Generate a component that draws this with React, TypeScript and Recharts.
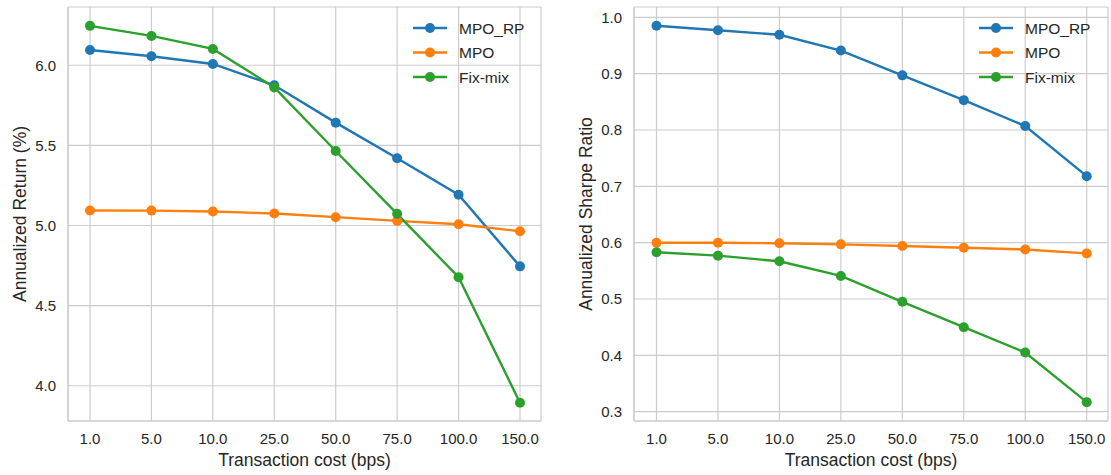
import React from "react";
import {
  LineChart,
  Line,
  XAxis,
  YAxis,
  CartesianGrid,
  Legend,
  Label,
} from "recharts";

const costs = ["1.0", "5.0", "10.0", "25.0", "50.0", "75.0", "100.0", "150.0"];

const returnMpoRp = [6.095, 6.056, 6.008, 5.875, 5.642, 5.42, 5.192, 4.745];
const returnMpo = [5.094, 5.093, 5.087, 5.075, 5.052, 5.029, 5.008, 4.964];
const returnFixMix = [6.246, 6.183, 6.102, 5.862, 5.465, 5.073, 4.677, 3.894];

const sharpeMpoRp = [0.985, 0.977, 0.969, 0.941, 0.897, 0.853, 0.807, 0.718];
const sharpeMpo = [0.6, 0.6, 0.599, 0.597, 0.594, 0.591, 0.588, 0.581];
const sharpeFixMix = [0.583, 0.577, 0.567, 0.541, 0.495, 0.45, 0.405, 0.317];

const returnTicks = [4.0, 4.5, 5.0, 5.5, 6.0];
const sharpeTicks = [0.3, 0.4, 0.5, 0.6, 0.7, 0.8, 0.9, 1.0];

const seriesNames = ["MPO_RP", "MPO", "Fix-mix"];
const seriesKeys = ["mpoRp", "mpo", "fixMix"];
const seriesColors = ["#1f77b4", "#ff7f0e", "#2ca02c"];

const returnData = costs.map((c, i) => ({
  cost: c,
  mpoRp: returnMpoRp[i],
  mpo: returnMpo[i],
  fixMix: returnFixMix[i],
}));

const sharpeData = costs.map((c, i) => ({
  cost: c,
  mpoRp: sharpeMpoRp[i],
  mpo: sharpeMpo[i],
  fixMix: sharpeFixMix[i],
}));

const TEXT = "#262626";
const GRID = "#cccccc";
const FONT = "'Liberation Sans', Arial, sans-serif";

const renderLegend = () => (
  <svg width={140} height={80} style={{ overflow: "visible" }}>
    {seriesNames.map((name, i) => {
      const cy = 12 + i * 24.5;
      return (
        <g key={name}>
          <line x1={0} x2={34} y1={cy} y2={cy} stroke={seriesColors[i]} strokeWidth={2.4} />
          <circle cx={17} cy={cy} r={5} fill={seriesColors[i]} />
          <text
            x={46}
            y={cy}
            dominantBaseline="central"
            fontSize={15.5}
            fill={TEXT}
            fontFamily={FONT}
          >
            {name}
          </text>
        </g>
      );
    })}
  </svg>
);

type PanelProps = {
  data: any[];
  domain: [number, number];
  ticks: number[];
  yLabel: string;
  width: number;
  yAxisWidth: number;
  marginRight: number;
  padLeft: number;
  padRight: number;
  yLabelX: number;
  legendLeft: number;
};

const Panel = (p: PanelProps) => (
  <LineChart
    width={p.width}
    height={475}
    data={p.data}
    margin={{ top: 7, right: p.marginRight, bottom: 0, left: 0 }}
  >
    <CartesianGrid stroke={GRID} strokeWidth={1.2} />
    <XAxis
      dataKey="cost"
      type="category"
      height={54}
      padding={{ left: p.padLeft, right: p.padRight }}
      tickSize={0}
      tickMargin={12}
      tick={{ fill: TEXT, fontSize: 15 }}
      axisLine={{ stroke: GRID, strokeWidth: 1.2 }}
      tickLine={false}
      interval={0}
    >
      <Label
        content={(props: any) => {
          const vb = props.viewBox || {};
          return (
            <text
              x={vb.x + vb.width / 2}
              y={vb.y + 39}
              textAnchor="middle"
              dominantBaseline="central"
              fontSize={17.5}
              fill={TEXT}
              fontFamily={FONT}
            >
              Transaction cost (bps)
            </text>
          );
        }}
      />
    </XAxis>
    <XAxis
      xAxisId="top"
      dataKey="cost"
      type="category"
      orientation="top"
      height={0}
      tick={false}
      tickLine={false}
      padding={{ left: p.padLeft, right: p.padRight }}
      axisLine={{ stroke: GRID, strokeWidth: 1.2 }}
    />
    <YAxis
      type="number"
      domain={p.domain}
      ticks={p.ticks}
      allowDataOverflow
      width={p.yAxisWidth}
      tickSize={0}
      tickMargin={12}
      tickLine={false}
      tick={{ fill: TEXT, fontSize: 15 }}
      tickFormatter={(v: number) => v.toFixed(1)}
      axisLine={{ stroke: GRID, strokeWidth: 1.2 }}
    >
      <Label
        content={(props: any) => {
          const vb = props.viewBox || {};
          const cx = vb.x + p.yLabelX;
          const cy = vb.y + vb.height / 2;
          return (
            <text
              x={cx}
              y={cy}
              textAnchor="middle"
              dominantBaseline="central"
              fontSize={17.5}
              fill={TEXT}
              fontFamily={FONT}
              transform={`rotate(-90, ${cx}, ${cy})`}
            >
              {p.yLabel}
            </text>
          );
        }}
      />
    </YAxis>
    <YAxis
      yAxisId="right"
      orientation="right"
      type="number"
      domain={p.domain}
      allowDataOverflow
      width={0}
      tick={false}
      tickLine={false}
      axisLine={{ stroke: GRID, strokeWidth: 1.2 }}
    />
    {seriesKeys.map((k, i) => (
      <Line
        key={k}
        dataKey={k}
        name={seriesNames[i]}
        stroke={seriesColors[i]}
        strokeWidth={2.4}
        dot={{ r: 5, fill: seriesColors[i], stroke: seriesColors[i], strokeWidth: 0 }}
        activeDot={false}
        isAnimationActive={false}
      />
    ))}
    <Legend
      layout="vertical"
      align="center"
      verticalAlign="middle"
      content={renderLegend}
      wrapperStyle={{ position: "absolute", left: p.legendLeft, top: 16, width: 140, height: 80 }}
    />
  </LineChart>
);

export default function App() {
  return (
    <div
      style={{
        position: "absolute",
        left: 0,
        top: 0,
        width: 1111,
        height: 475,
        background: "#ffffff",
        fontFamily: FONT,
      }}
    >
      <div style={{ position: "absolute", left: 0, top: 0 }}>
        <Panel
          data={returnData}
          domain={[3.78, 6.3636]}
          ticks={returnTicks}
          yLabel="Annualized Return (%)"
          width={560}
          yAxisWidth={68}
          marginRight={19}
          padLeft={22}
          padRight={21}
          yLabelX={19.6}
          legendLeft={412.5}
        />
      </div>
      <div style={{ position: "absolute", left: 560, top: 0 }}>
        <Panel
          data={sharpeData}
          domain={[0.2835, 1.0183]}
          ticks={sharpeTicks}
          yLabel="Annualized Sharpe Ratio"
          width={551}
          yAxisWidth={74}
          marginRight={3}
          padLeft={22.5}
          padRight={21.3}
          yLabelX={26.4}
          legendLeft={419.2}
        />
      </div>
    </div>
  );
}
